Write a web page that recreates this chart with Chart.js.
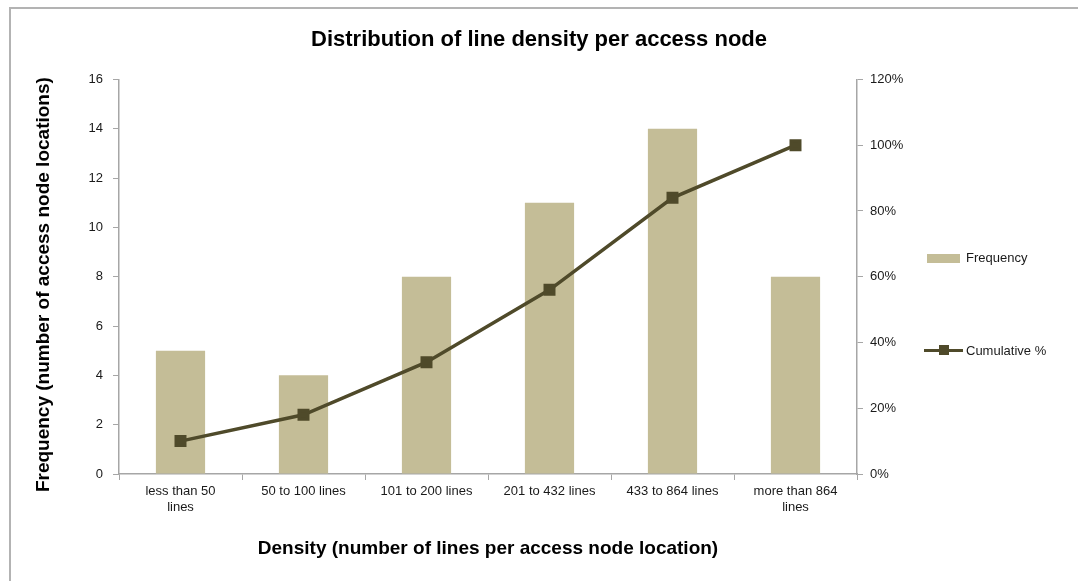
<!DOCTYPE html>
<html lang="en">
<head>
    <meta charset="UTF-8">
    <title>Distribution of line density per access node</title>
    <style>
        body {
            margin: 0;
            background: #ffffff;
            font-family: "Liberation Sans", Arial, sans-serif;
        }

        .wrap {
            position: relative;
            width: 1078px;
            height: 581px;
            overflow: hidden;
        }

        .frame {
            position: absolute;
            left: 9px;
            top: 7px;
            right: -5px;
            bottom: -5px;
            border-left: 2px solid #b3b3b3;
            border-top: 2px solid #b3b3b3;
        }

        canvas {
            position: absolute;
            left: 0;
            top: 0;
        }

        .legend-item {
            position: absolute;
            left: 924px;
            height: 16px;
            font-family: "Liberation Sans", Arial, sans-serif;
            font-size: 13px;
            color: #1a1a1a;
            line-height: 16px;
        }

        .swatch {
            position: absolute;
            left: 3px;
            top: 4px;
            width: 33px;
            height: 9px;
            background: #c4bd97;
        }

        .line-key {
            position: absolute;
            left: 0;
            top: 6px;
            width: 39px;
            height: 3px;
            background: #4f4a2a;
        }

        .marker-key {
            position: absolute;
            left: 15px;
            top: 2px;
            width: 10px;
            height: 10px;
            background: #4f4a2a;
        }

        .legend-item span {
            position: absolute;
            left: 42px;
            white-space: nowrap;
        }
    </style>
    <script src="https://cdn.jsdelivr.net/npm/chart.js@4.4.1/dist/chart.umd.min.js"></script>
</head>
<body>
    <div class="wrap">
        <div class="frame"></div>
        <canvas id="chart" width="1078" height="581"></canvas>
        <div class="legend-item" style="top: 250px;">
            <div class="swatch"></div>
            <span>Frequency</span>
        </div>
        <div class="legend-item" style="top: 343px;">
            <div class="line-key"></div>
            <div class="marker-key"></div>
            <span>Cumulative %</span>
        </div>
    </div>
    <script>
        const categories = [
            ['less than 50', 'lines'],
            '50 to 100 lines',
            '101 to 200 lines',
            '201 to 432 lines',
            '433 to 864 lines',
            ['more than 864', 'lines']
        ];
        const frequency = [5, 4, 8, 11, 14, 8];
        const cumulative = [0.10, 0.18, 0.34, 0.56, 0.84, 1.00];

        const tickFont = { family: '"Liberation Sans", Arial, sans-serif', size: 13 };
        const titleFont = { family: '"Liberation Sans", Arial, sans-serif', size: 19, weight: 'bold' };
        const axisGray = '#a6a6a6';

        const ctx = document.getElementById('chart').getContext('2d');
        new Chart(ctx, {
            type: 'bar',
            data: {
                labels: categories,
                datasets: [
                    {
                        type: 'line',
                        label: 'Cumulative %',
                        data: cumulative,
                        yAxisID: 'y1',
                        borderColor: '#4f4a2a',
                        backgroundColor: '#4f4a2a',
                        borderWidth: 3.5,
                        pointStyle: 'rect',
                        pointRadius: 6,
                        pointHoverRadius: 6,
                        tension: 0,
                        order: 0
                    },
                    {
                        label: 'Frequency',
                        data: frequency,
                        yAxisID: 'y',
                        backgroundColor: '#c4bd97',
                        categoryPercentage: 1,
                        barPercentage: 0.4,
                        order: 1
                    }
                ]
            },
            options: {
                responsive: false,
                animation: false,
                layout: { padding: 0 },
                plugins: {
                    legend: { display: false },
                    tooltip: { enabled: false },
                    title: {
                        display: true,
                        text: 'Distribution of line density per access node',
                        color: '#000',
                        font: { family: '"Liberation Sans", Arial, sans-serif', size: 22, weight: 'bold' },
                        padding: { top: 27, bottom: 26 }
                    }
                },
                scales: {
                    x: {
                        grid: {
                            offset: true,
                            drawOnChartArea: false,
                            color: axisGray,
                            tickLength: 6
                        },
                        border: { color: axisGray, width: 1.5 },
                        ticks: {
                            color: '#1a1a1a',
                            font: tickFont,
                            padding: 4,
                            maxRotation: 0,
                            autoSkip: false
                        },
                        title: {
                            display: true,
                            text: 'Density (number of lines per access node location)',
                            color: '#000',
                            font: titleFont,
                            padding: { top: 4, bottom: 21 }
                        },
                        afterFit: (s) => { s.height = 107; }
                    },
                    y: {
                        position: 'left',
                        min: 0,
                        max: 16,
                        grid: {
                            drawOnChartArea: false,
                            color: axisGray,
                            tickLength: 6
                        },
                        border: { color: axisGray, width: 1.5 },
                        ticks: {
                            stepSize: 2,
                            color: '#1a1a1a',
                            font: tickFont,
                            padding: 10
                        },
                        title: {
                            display: true,
                            text: 'Frequency (number of access node locations)   ',
                            color: '#000',
                            font: titleFont,
                            padding: { top: 32, bottom: 0 }
                        },
                        afterFit: (s) => { s.width = 119; }
                    },
                    y1: {
                        position: 'right',
                        min: 0,
                        max: 1.2,
                        grid: {
                            drawOnChartArea: false,
                            color: axisGray,
                            tickLength: 6
                        },
                        border: { color: axisGray, width: 1.5 },
                        ticks: {
                            stepSize: 0.2,
                            color: '#1a1a1a',
                            font: tickFont,
                            padding: 7,
                            callback: (v) => Math.round(v * 100) + '%'
                        },
                        afterFit: (s) => { s.width = 221; }
                    }
                }
            }
        });
    </script>
</body>
</html>
